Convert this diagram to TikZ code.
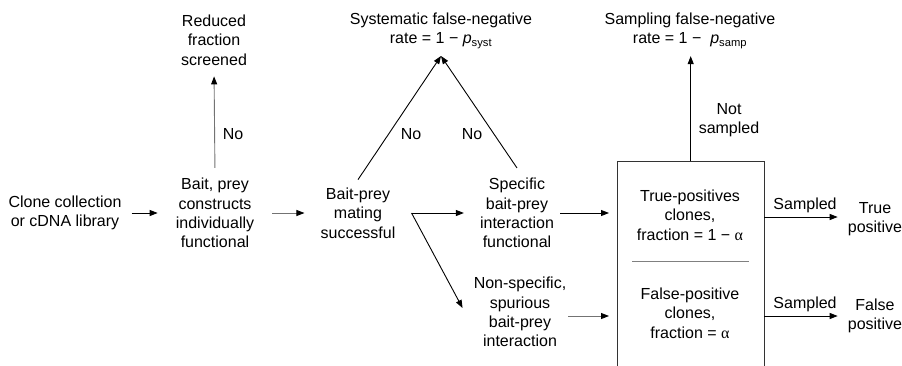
\documentclass[tikz,border=0pt]{standalone}
\usepackage{fontspec}
\setmainfont{Liberation Sans}
\newfontfamily\grkfont{Liberation Serif}
\usetikzlibrary{arrows.meta}
\begin{document}
\begin{tikzpicture}[x=1pt,y=-1pt,
  txt/.style={align=center, inner sep=2pt, font=\fontsize{16}{19.3}\selectfont},
  lbl/.style={font=\fontsize{16}{19.3}\selectfont, inner sep=1pt},
  arr/.style={draw=black, line width=0.9pt, -{Triangle[length=8pt,width=6pt]}},
  garr/.style={draw=black!55, line width=0.9pt, -{Triangle[length=8pt,width=6pt,color=black]}},
  boxline/.style={draw=black!80, line width=0.8pt},
  divline/.style={draw=black!50, line width=0.9pt},
  ]
\useasboundingbox (0,0) rectangle (902,365);
\fill[white] (0,0) rectangle (902,365);

% nodes
\node[txt] (clone)   at (65,213)  {Clone collection\\or cDNA library};
\node[txt] (bait)    at (215,213) {Bait, prey\\constructs\\individually\\functional};
\node[txt] (reduced) at (214,40)  {Reduced\\fraction\\screened};
\node[txt] (mating)  at (358,213) {Bait-prey\\mating\\successful};
\node[txt] (syst)    at (441,31)  {Systematic false-negative\\rate = 1 − \textit{p}\textsubscript{syst}};
\node[txt] (spec)    at (517,213) {Specific\\bait-prey\\interaction\\functional};
\node[txt] (nonspec) at (520,312) {Non-specific,\\spurious\\bait-prey\\interaction};
\node[txt] (samp)    at (690,31)  {Sampling false-negative\\rate = 1 −\ \ \textit{p}\textsubscript{samp}};
\node[draw=none, minimum width=147pt, minimum height=240pt, inner sep=0pt, anchor=north west] (box) at (617,161) {};
\draw[boxline] (box.south west) -- (box.north west) -- (box.north east) -- (box.south east);
\node[txt] (tp)      at (690,215) {True-positives\\clones,\\fraction = 1 − {\grkfont α}};
\node[txt] (fp)      at (690,313) {False-positive\\clones,\\fraction = {\grkfont α}};
\node[txt] (truep)   at (875,219) {True\\positive};
\node[txt] (falsep)  at (875,316) {False\\positive};
\node[txt] (notsamp) at (729,120) {Not\\sampled};
\node[lbl] (no1) at (233,134) {No};
\node[lbl] (no2) at (411,134) {No};
\node[lbl] (no3) at (472,134) {No};

\coordinate (systtip) at (441,56);
\coordinate (br) at ([xshift=14pt]mating.east);
\coordinate (div1) at (632,261);
\coordinate (div2) at (749,261);

% connectors
\draw[arr, shorten <=8pt, shorten >=16pt] (clone.east) -- (bait.west);
\draw[garr, shorten <=16pt, shorten >=14pt] (bait.east) -- (mating.west);
\draw[garr, shorten <=8pt, shorten >=9pt] (bait.north) -- (reduced.south);
\draw[arr] ([yshift=6pt]mating.north) -- (systtip);
\draw[arr] ([yshift=8pt]spec.north) -- (systtip);
\draw[arr, shorten >=14pt] (br) -- (spec.west);
\draw[arr] (br) -- ([xshift=-9pt,yshift=4pt]nonspec.west);
\draw[arr, shorten <=4pt, shorten >=8pt] (spec.east) -- (spec.east -| box.west);
\draw[garr, shorten >=8pt] ([yshift=-4pt]nonspec.east) -- ([yshift=-4pt]nonspec.east -| box.west);
\draw[arr, shorten >=5pt] (box.north) -- (box.north |- samp.south);
\draw[arr, shorten >=8pt] ([yshift=2pt]box.east |- truep.west) -- node[lbl, above=3pt] (s1) {Sampled} ([yshift=2pt]truep.west);
\draw[arr, shorten >=8pt] (box.east |- falsep.west) -- node[lbl, above=3pt] (s2) {Sampled} (falsep.west);
\draw[divline] (div1) -- (div2);
\end{tikzpicture}
\end{document}
